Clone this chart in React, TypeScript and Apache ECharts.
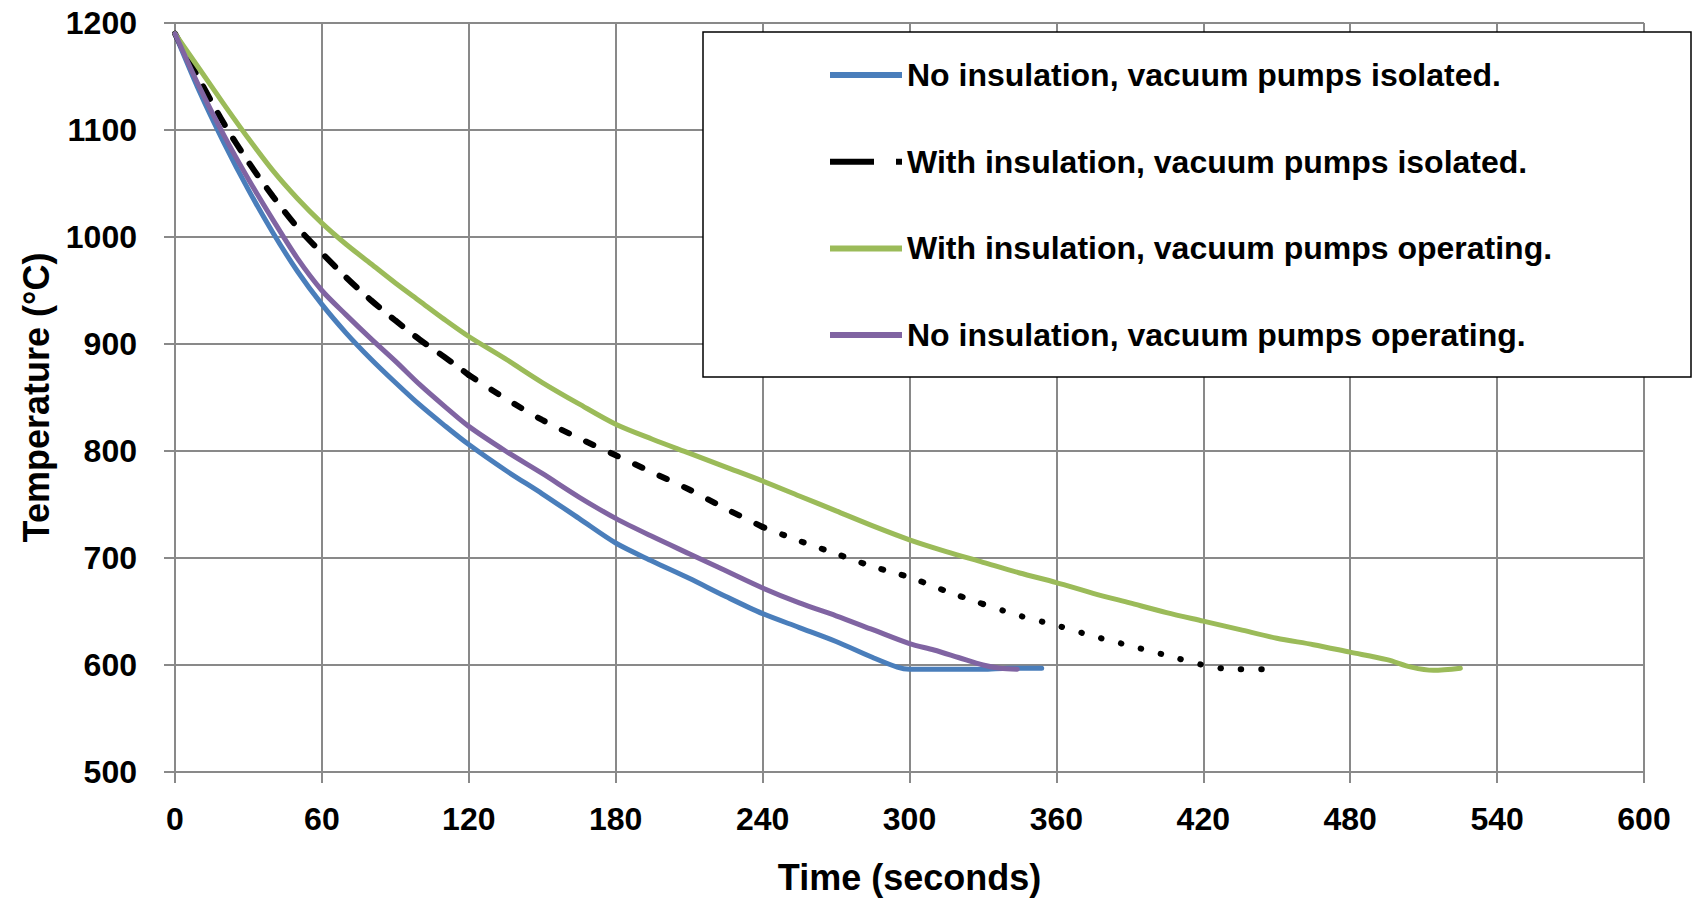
import React, { useEffect, useRef } from "react";
import * as echarts from "echarts";

const xTicks = [0, 60, 120, 180, 240, 300, 360, 420, 480, 540, 600];

const seriesNames = [
  "No insulation, vacuum pumps isolated.",
  "With insulation, vacuum pumps isolated.",
  "With insulation, vacuum pumps operating.",
  "No insulation, vacuum pumps operating.",
];

const blueT = [0, 10, 20, 30, 40, 50, 60, 70, 80, 90, 100, 110, 120, 135, 150, 165, 180, 195, 210, 225, 240, 255, 270, 285, 295, 300, 310, 320, 330, 340, 354];
const blueV = [1190, 1136, 1088, 1044, 1004, 968, 937, 910, 886, 864, 843, 824, 806, 782, 760, 737, 714, 697, 681, 664, 648, 635, 622, 607, 598, 596, 596, 596, 596, 597, 597];

const blackT = [0, 10, 20, 30, 40, 50, 60, 70, 80, 90, 100, 110, 120, 135, 150, 165, 180, 195, 210, 225, 240, 255, 270, 285, 300, 315, 330, 345, 360, 375, 390, 405, 420, 432, 440, 450];
const blackV = [1190, 1147, 1106, 1070, 1038, 1009, 985, 962, 941, 922, 904, 888, 871, 849, 829, 812, 796, 780, 764, 746, 729, 716, 704, 692, 682, 669, 657, 646, 637, 627, 618, 609, 600, 596, 596, 596];

const greenT = [0, 10, 20, 30, 40, 50, 60, 70, 80, 90, 100, 110, 120, 135, 150, 165, 180, 195, 210, 225, 240, 255, 270, 285, 300, 315, 330, 345, 360, 375, 390, 405, 420, 435, 450, 465, 480, 495, 505, 514, 525];
const greenV = [1190, 1157, 1124, 1092, 1062, 1036, 1013, 993, 975, 957, 940, 923, 907, 886, 864, 844, 825, 811, 798, 785, 772, 758, 744, 730, 717, 706, 696, 686, 677, 667, 658, 649, 641, 633, 625, 619, 612, 605, 598, 595, 597];

const purpleT = [0, 10, 20, 30, 40, 50, 60, 70, 80, 90, 100, 110, 120, 135, 150, 165, 180, 195, 210, 225, 240, 255, 270, 285, 300, 310, 320, 330, 337, 344];
const purpleV = [1190, 1140, 1095, 1054, 1016, 980, 950, 927, 905, 884, 862, 842, 823, 800, 779, 757, 737, 720, 704, 688, 672, 658, 646, 633, 620, 614, 607, 600, 597, 596];

// time breakpoints where the black curve's dash style changes
const blackBreaks = [0, 120, 240, 330, 450];
const blackDashes = [[14, 16], [8, 19], [2, 19], [0.5, 20]];

const pairs = (t: number[], v: number[]) => t.map((x, i) => [x, v[i]]);

const FONT = "'Liberation Sans', Arial, sans-serif";
const GRID = "#898989";

export default function App() {
  const ref = useRef<HTMLDivElement>(null);
  useEffect(() => {
    if (!ref.current) return;
    const chart = echarts.init(ref.current, undefined, { renderer: "svg" });
    const blackData = pairs(blackT, blackV);
    const blackSeries = blackDashes.map((dash, k) => ({
      name: seriesNames[1],
      type: "line",
      symbol: "none",
      smooth: 0.3,
      data: blackData.filter((p) => p[0] >= blackBreaks[k] && p[0] <= blackBreaks[k + 1]),
      lineStyle: { color: "#000000", width: 6, type: dash, cap: "round" },
      itemStyle: { color: "#000000" },
    }));
    const mk = (name: string, color: string, t: number[], v: number[]) => ({
      name,
      type: "line",
      symbol: "none",
      smooth: 0.3,
      data: pairs(t, v),
      lineStyle: { color, width: 5, cap: "round", join: "round" },
      itemStyle: { color },
    });
    chart.setOption({
      animation: false,
      backgroundColor: "#ffffff",
      textStyle: { fontFamily: FONT },
      grid: { left: 175, right: 54, top: 23, bottom: 125, containLabel: false },
      xAxis: {
        type: "value",
        min: 0,
        max: 600,
        interval: 60,
        name: "Time (seconds)",
        nameLocation: "middle",
        nameGap: 87,
        nameTextStyle: { fontSize: 36, fontWeight: "bold", color: "#000", fontFamily: FONT },
        axisLine: { show: true, lineStyle: { color: GRID, width: 2 } },
        axisTick: { show: true, length: 11, lineStyle: { color: GRID, width: 2 } },
        axisLabel: {
          fontSize: 32,
          fontWeight: "bold",
          color: "#000",
          margin: 31,
          fontFamily: FONT,
          formatter: (v: number) => (xTicks.includes(v) ? String(v) : ""),
        },
        splitLine: { show: true, lineStyle: { color: GRID, width: 2 } },
      },
      yAxis: {
        type: "value",
        min: 500,
        max: 1200,
        interval: 100,
        name: "Temperature (°C)",
        nameLocation: "middle",
        nameGap: 116,
        nameRotate: 90,
        nameTextStyle: { fontSize: 36, fontWeight: "bold", color: "#000", fontFamily: FONT },
        axisLine: { show: true, lineStyle: { color: GRID, width: 2 } },
        axisTick: { show: true, length: 11, lineStyle: { color: GRID, width: 2 } },
        axisLabel: {
          fontSize: 32,
          fontWeight: "bold",
          color: "#000",
          margin: 38,
          fontFamily: FONT,
          formatter: (v: number) => String(v),
        },
        splitLine: { show: true, lineStyle: { color: GRID, width: 2 } },
      },
      legend: {
        orient: "vertical",
        left: 830,
        top: 59,
        padding: 0,
        itemWidth: 72,
        itemHeight: 14,
        itemGap: 54.7,
        selectedMode: false,
        textStyle: { fontSize: 32, fontWeight: "bold", color: "#000", fontFamily: FONT, lineHeight: 32 },
        data: [
          { name: seriesNames[0], icon: "path://M0,0L72,0L72,6L0,6Z", itemStyle: { color: "#4A7EBB" } },
          {
            name: seriesNames[1],
            icon: "path://M0,0L44,0L44,6L0,6ZM66,0L72,0L72,6L66,6Z",
            itemStyle: { color: "#000000" },
          },
          { name: seriesNames[2], icon: "path://M0,0L72,0L72,6L0,6Z", itemStyle: { color: "#9BBB59" } },
          { name: seriesNames[3], icon: "path://M0,0L72,0L72,6L0,6Z", itemStyle: { color: "#8064A2" } },
        ],
      },
      graphic: [
        {
          type: "rect",
          z: 3,
          shape: { x: 703, y: 32, width: 988, height: 345 },
          style: { fill: "#ffffff", stroke: "#000000", lineWidth: 1.5 },
        },
      ],
      series: [
        mk(seriesNames[0], "#4A7EBB", blueT, blueV),
        ...blackSeries,
        mk(seriesNames[2], "#9BBB59", greenT, greenV),
        mk(seriesNames[3], "#8064A2", purpleT, purpleV),
      ],
    });
    return () => chart.dispose();
  }, []);
  return (
    <div
      ref={ref}
      style={{ position: "fixed", left: 0, top: 0, width: 1698, height: 900, background: "#fff" }}
    />
  );
}
